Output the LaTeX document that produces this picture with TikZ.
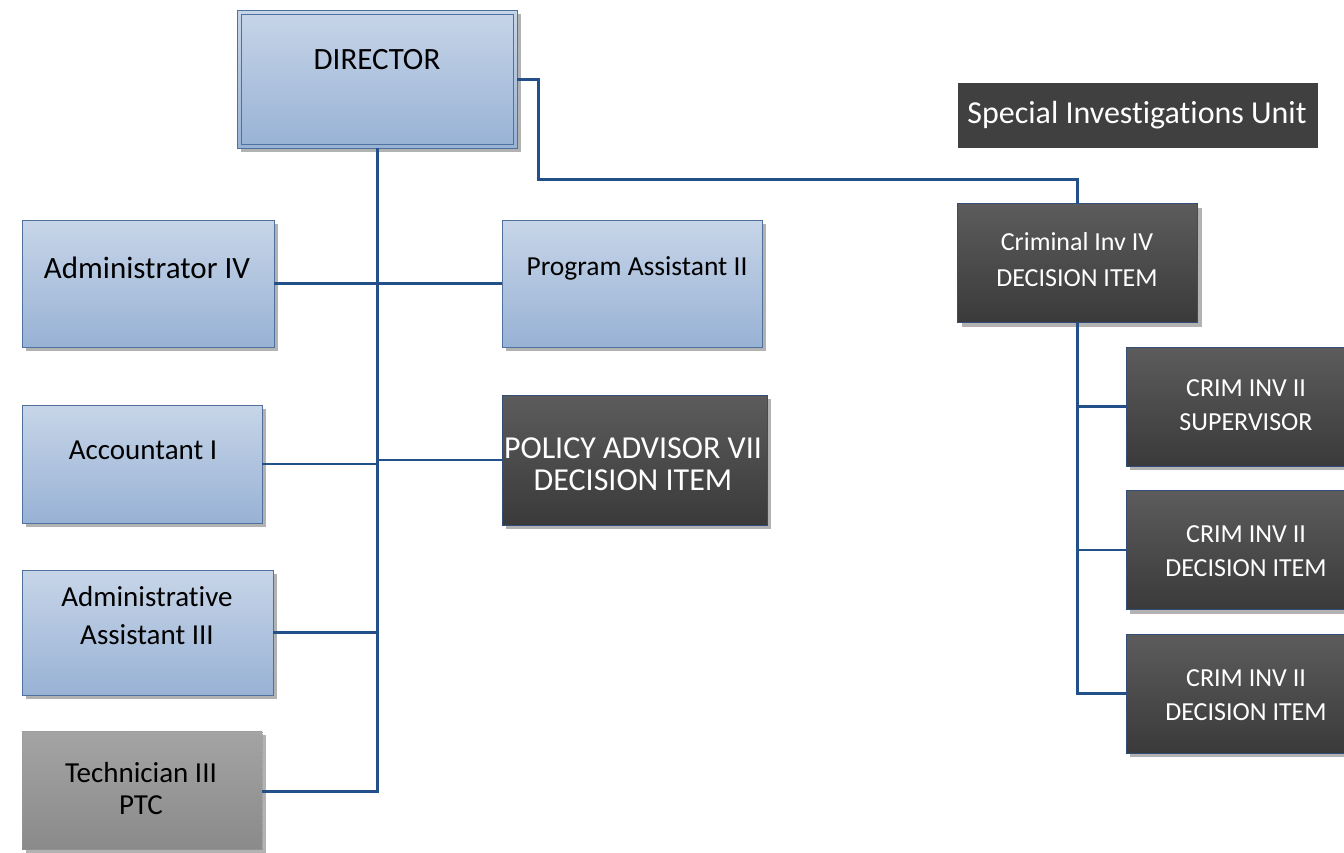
\documentclass[tikz,border=0pt]{standalone}
\usepackage{fontspec}
\setmainfont{Carlito}[Ligatures=NoCommon]
\usetikzlibrary{shadows,calc}
\definecolor{lineblue}{RGB}{36,80,138}
\definecolor{bluetop}{RGB}{199,213,232}
\definecolor{bluebot}{RGB}{152,178,213}
\definecolor{blueedge}{RGB}{80,112,158}
\definecolor{darktop}{RGB}{92,92,92}
\definecolor{darkbot}{RGB}{58,58,58}
\definecolor{darkedge}{RGB}{50,78,120}
\definecolor{graytop}{RGB}{164,164,164}
\definecolor{graybot}{RGB}{138,138,138}
\tikzset{
  shad/.style={drop shadow={shadow xshift=4pt,shadow yshift=-4pt,fill=black!30,opacity=1}},
  bluebox/.style={rectangle,draw=blueedge,line width=1pt,top color=bluetop,bottom color=bluebot,shad,outer sep=0pt,inner sep=0pt},
  darkbox/.style={rectangle,draw=darkedge,line width=1pt,top color=darktop,bottom color=darkbot,shad,outer sep=0pt,inner sep=0pt},
  graybox/.style={rectangle,draw=black!40,densely dotted,line width=1pt,top color=graytop,bottom color=graybot,shad,outer sep=0pt,inner sep=0pt},
  btxt/.style={text=black,align=center,inner sep=0pt},
  wtxt/.style={text=white,align=center,inner sep=0pt},
  conn/.style={draw=lineblue,line width=2.5pt},
  mainconn/.style={draw=lineblue,line width=3pt},
}
\begin{document}
\begin{tikzpicture}[x=1pt,y=-1pt]
\useasboundingbox (0,0) rectangle (1344,852);
\clip (0,0) rectangle (1344,852);
\coordinate (trunkend) at (376,791);
% boxes
\node[bluebox,minimum width=280pt,minimum height=138pt] (director) at (377,79) {};
\draw[blueedge,line width=1pt] ($(director.north west)+(4,4)$) rectangle ($(director.south east)+(-4,-4)$);
\node[bluebox,minimum width=252pt,minimum height=127pt] (admin) at (148,283.5) {};
\node[bluebox,minimum width=260pt,minimum height=127pt] (prog) at (632,283.5) {};
\node[bluebox,minimum width=240pt,minimum height=118pt] (acct) at (142,464) {};
\node[darkbox,minimum width=265pt,minimum height=130pt] (policy) at (634.5,460) {};
\node[bluebox,minimum width=251pt,minimum height=125pt] (asst) at (147.5,632.5) {};
\node[graybox,minimum width=240pt,minimum height=118pt] (tech) at (142,790) {};
\node[rectangle,fill=black!75,minimum width=360pt,minimum height=65pt,outer sep=0pt] (siu) at (1138,115.5) {};
\node[darkbox,minimum width=240pt,minimum height=119pt] (crim4) at (1077.5,263) {};
\node[darkbox,minimum width=240pt,minimum height=119pt] (crim2a) at (1246,406.5) {};
\node[darkbox,minimum width=240pt,minimum height=119pt] (crim2b) at (1246,550) {};
\node[darkbox,minimum width=240pt,minimum height=119pt] (crim2c) at (1246,693.5) {};
% texts
\node[btxt,font=\fontsize{31}{37}\selectfont] (tdir) at (377,60) {DIRECTOR};
\node[btxt,font=\fontsize{31}{37}\selectfont] (tadmin) at (147,268) {Administrator IV};
\node[btxt,font=\fontsize{27.5}{32}\selectfont] (tprog) at (637,268) {Program Assistant II};
\node[btxt,font=\fontsize{29}{35}\selectfont] (tacct) at (143,450) {Accountant I};
\node[wtxt,font=\fontsize{32}{32}\selectfont] (tpolicy) at (633,464) {POLICY ADVISOR VII\\DECISION ITEM};
\node[btxt,font=\fontsize{29}{38}\selectfont] (tasst) at (147,616) {Administrat\kern0pt ive\\Assistant III};
\node[btxt,font=\fontsize{29}{32}\selectfont] (ttech) at (141,789) {Technician III\\PTC};
\node[wtxt,font=\fontsize{32}{38}\selectfont] (tsiu) at (1137,115) {Special Invest\kern0pt igat\kern0pt ions Unit};
\node[wtxt,font=\fontsize{26}{36}\selectfont] (tcrim4) at (1077,260) {Criminal Inv IV\\DECISION ITEM};
\node[wtxt,font=\fontsize{26}{34}\selectfont] (tc2a) at (1246,405) {CRIM INV II\\SUPERVISOR};
\node[wtxt,font=\fontsize{26}{34}\selectfont] (tc2b) at (1246,551) {CRIM INV II\\DECISION ITEM};
\node[wtxt,font=\fontsize{26}{34}\selectfont] (tc2c) at (1246,695) {CRIM INV II\\DECISION ITEM};
% connectors
\draw[mainconn] (director.south) -- (director.south |- trunkend) -- (tech.east |- trunkend);
\draw[conn] (admin.east) -- (admin.east -| director.south);
\draw[conn] (prog.west) -- (prog.west -| director.south);
\draw[conn] (acct.east) -- (acct.east -| director.south);
\draw[conn] (policy.west) -- (policy.west -| director.south);
\draw[conn] (asst.east) -- (asst.east -| director.south);
\draw[mainconn] (director.east) -- ++(21,0) -- ++(0,100) -| (crim4.north);
\draw[conn] (crim4.south) -- (crim4.south |- crim2c.west) -- (crim2c.west);
\draw[conn] (crim2a.west) -- (crim2a.west -| crim4.south);
\draw[conn] (crim2b.west) -- (crim2b.west -| crim4.south);
\end{tikzpicture}
\end{document}
